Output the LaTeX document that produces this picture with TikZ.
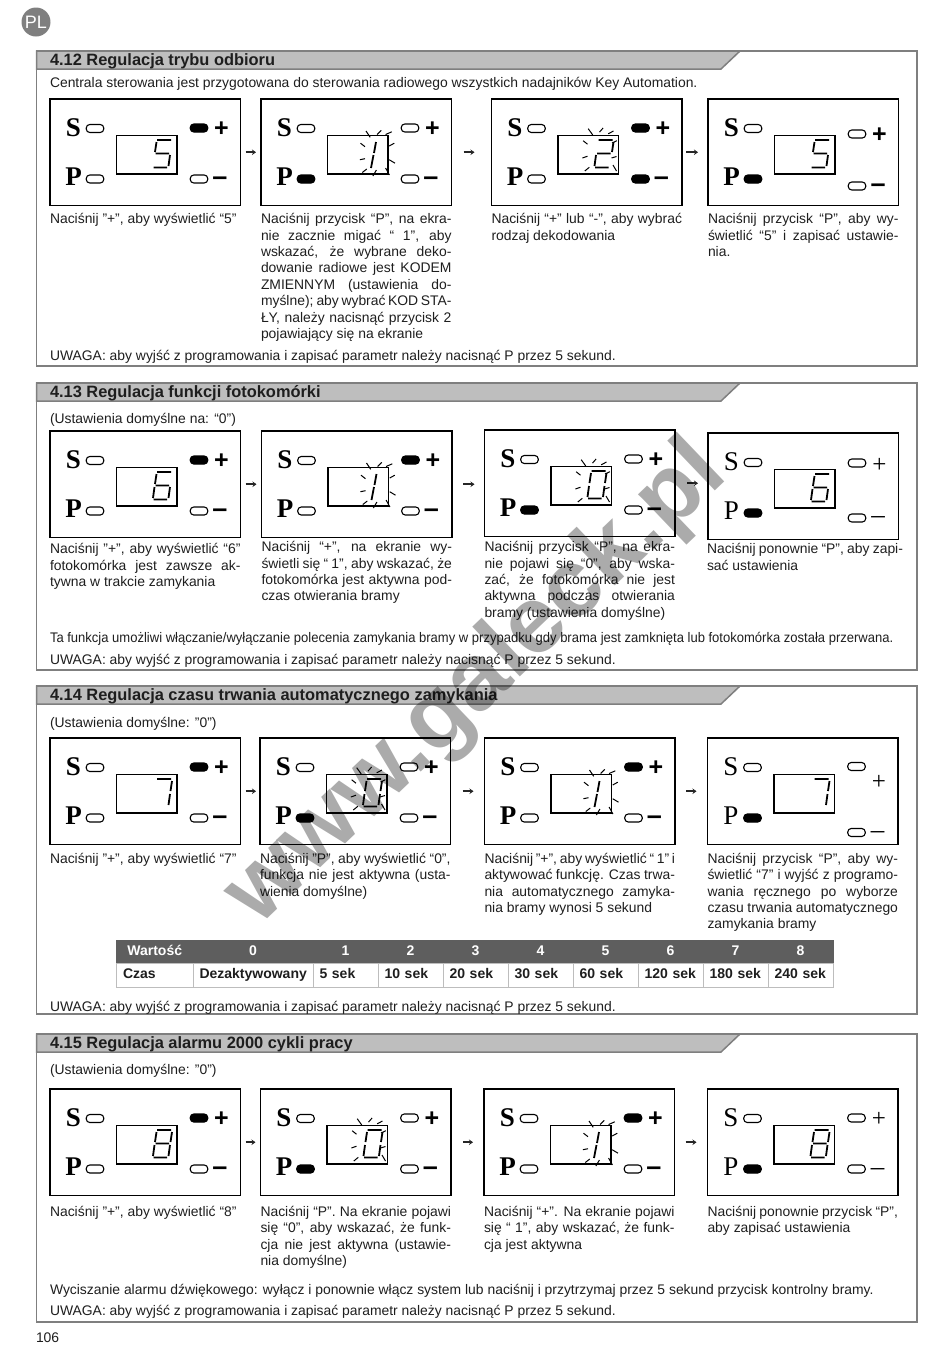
\documentclass[tikz,border=0pt]{standalone}
\usepackage{fontspec}
\setmainfont{Liberation Sans}
\newfontfamily\serifkeys{Liberation Serif}
\usetikzlibrary{arrows.meta, positioning}
\definecolor{frameline}{HTML}{7F7F7F}
\definecolor{barfill}{HTML}{BEBEBE}
\definecolor{inktext}{HTML}{1E1E1E}
\definecolor{tablehead}{HTML}{5E5E5E}
\definecolor{tableline}{HTML}{BDBDBD}
% display segments
\newcommand{\sega}{(107,41) -- (121,41)}
\newcommand{\segb}{(122,43) -- (120.5,53)}
\newcommand{\segc}{(120,56) -- (118.5,67)}
\newcommand{\segd}{(103.5,68.5) -- (117,68.5)}
\newcommand{\sege}{(103,67) -- (104.5,56)}
\newcommand{\segf}{(105,53) -- (106.5,43)}
\newcommand{\segg}{(105.5,54.5) -- (119,54.5)}
\newcommand{\dzero}{\sega \segb \segc \segd \sege \segf}
\newcommand{\done}{(115,43) -- (113,54) (112.5,56) -- (110,69)}
\newcommand{\dtwo}{\sega \segb \segg \sege \segd}
\newcommand{\dfive}{\sega \segf \segg \segc \segd}
\newcommand{\dsix}{\sega \segf \segg \segc \segd \sege}
\newcommand{\dseven}{\sega \segb \segc}
\newcommand{\deight}{\sega \segb \segc \segd \sege \segf \segg}
\newcommand{\blinkzero}{(96.7,29.7) -- (101.2,35.9) (108,33.1) -- (111.6,29) (116.7,34.8) -- (122,32)
  (91.6,41.7) -- (96,45.2) (90.9,59) -- (96,57.2) (93.3,72) -- (97.8,68.3)
  (120.5,44) -- (125.4,41.7) (120,59) -- (125,57.5) (121.5,66) -- (125,72)}
\newcommand{\blinkone}{(105,32) -- (109.2,38.3) (116.1,35.5) -- (120.2,31.4) (124.6,35.5) -- (130.8,32.8)
  (99.5,44.2) -- (104,47.7) (98.9,60.7) -- (104,59.7) (101.3,73.5) -- (105.8,70)
  (111.9,77) -- (115.4,71) (124.6,69) -- (128.4,76) (128.2,47) -- (133.3,44.2) (128.2,60.7) -- (134,64.2)}
% [levels and key look]{name}{position}{digit}{blink}{P led}{+ led}{- led}
\newcommand{\lcdpanel}[8][]{%
  \node[lcdframe] (#2) at (#3) {};
  \begin{scope}[shift={(#3)}]
    \def\plusledy{29}\def\plussigny{37.5}\def\minusledy{80}\def\minussigny{86.5}%
    \def\keystyle{\serifkeys\bfseries}\def\signstyle{\bfseries}#1
    \node[keyletter, font=\fontsize{27}{27}\keystyle] (#2s) at (23.5,37) {S};
    \node[keyletter, font=\fontsize{27}{27}\keystyle] (#2p) at (23.5,86.5) {P};
    \node[led] (#2sl) at (45,29.5) {};
    \node[led, fill=#6] (#2pl) at (45,80) {};
    \node[led, fill=#7] (#2al) at (149,\plusledy) {};
    \node[led, fill=#8] (#2ml) at (149,\minusledy) {};
    \node[keyletter, font=\fontsize{25}{25}\signstyle] (#2a) at (171.5,\plussigny) {+};
    \node[keyletter, font=\fontsize{27}{27}\signstyle] (#2m) at (170,\minussigny) {–};
    \node[lcdscreen] (#2d) at (66.5,36.5) {};
    \draw[digitseg] #4;
    \draw[blinktick] #5;
  \end{scope}}
\newcommand{\secframe}[4]{%
  \node[secbox, minimum height=#3pt] (#1) at (36.5,#2) {};
  \draw[secbar] (#1.north west) -- ++(703.5,0) -- ++(-19,18) -- ++(-684.5,0) -- cycle;
  \node[sectitle] (#1t) at (50,#2+14) {#4};}

\begin{document}
\begin{tikzpicture}[x=1pt, y=-1pt,
    every node/.style={inner sep=0pt, outer sep=0pt, text=inktext},
    secbox/.style={draw=frameline, line width=1.5pt, anchor=north west, minimum width=880.5pt},
    secbar/.style={draw=frameline, line width=1.5pt, fill=barfill},
    sectitle/.style={anchor=base west, font=\fontsize{16.4}{18}\selectfont\bfseries},
    lcdframe/.style={draw=black, line width=1.4pt, anchor=north west, minimum width=190.5pt, minimum height=106.5pt},
    lcdscreen/.style={draw=black, line width=1.2pt, anchor=north west, minimum width=60.5pt, minimum height=38.5pt},
    led/.style={draw=black, line width=1.1pt, rounded corners=3.5pt, minimum width=17.5pt, minimum height=8pt, fill=white},
    keyletter/.style={anchor=base, text=black},
    digitseg/.style={draw=black, line width=1.8pt},
    blinktick/.style={draw=black, line width=1pt},
    caption/.style={text width=190.5pt, align=justify, font=\fontsize{13.9}{16.4}\selectfont},
    bodyline/.style={anchor=base west, font=\fontsize{13.9}{16.4}\selectfont},
    flowarrow/.style={-{Stealth[length=4pt, width=5.5pt]}, line width=1.9pt, draw=black!85, yshift=-1pt},
    headcell/.style={fill=tablehead, draw=tablehead, line width=.8pt, minimum height=23pt, text height=10pt, text depth=2pt, text=white, align=center, font=\fontsize{14}{16}\selectfont\bfseries},
    rowcell/.style={draw=tableline, line width=.8pt, minimum height=24pt, text height=10pt, text depth=3pt, inner xsep=6.5pt, align=left, font=\fontsize{14}{16}\selectfont\bfseries}]
  \useasboundingbox (0,0) rectangle (950,1353);
  \node[circle, fill=frameline, minimum size=29pt, text=white, font=\fontsize{18}{18}\selectfont] (lang) at (36,22) {PL};
  \node[bodyline] (pageno) at (36,1342) {106};

  % 4.12
  \secframe{s12}{51}{315}{4.12 Regulacja trybu odbioru}
  \node[bodyline] (n12a) at (50,87.5) {Centrala sterowania jest przygotowana do sterowania radiowego wszystkich nadajników Key Automation.};
  \lcdpanel{p12a}{50,99}{\dfive}{}{white}{black}{white}
  \lcdpanel{p12b}{261,99}{\done}{\blinkone}{black}{white}{white}
  \lcdpanel{p12c}{491.5,99}{\dtwo}{\blinkzero}{white}{black}{black}
  \lcdpanel[\def\plusledy{35}\def\plussigny{43.5}\def\minusledy{87}\def\minussigny{93.5}]{p12d}{708,99}{\dfive}{}{black}{white}{white}
  \node[caption, below=8pt of p12a] (c12a) {Naciśnij ”+”, aby wyświetlić “5”};
  \node[caption, below=8pt of p12b] (c12b) {Naciśnij przycisk “P”, na ekra-\linebreak nie zacznie migać “ 1”, aby\linebreak wskazać, że wybrane deko-\linebreak dowanie radiowe jest KODEM\linebreak ZMIENNYM (ustawienia do-\linebreak myślne); aby wybrać KOD STA-\linebreak ŁY, należy nacisnąć przycisk 2\linebreak pojawiający się na ekranie};
  \node[caption, below=8pt of p12c] (c12c) {Naciśnij “+” lub “-”, aby wybrać\linebreak rodzaj dekodowania};
  \node[caption, below=8pt of p12d] (c12d) {Naciśnij przycisk “P”, aby wy-\linebreak świetlić “5” i zapisać ustawie-\linebreak nia.};
  \node[bodyline] (n12b) at (50,360) {UWAGA: aby wyjść z programowania i zapisać parametr należy nacisnąć P przez 5 sekund.};

  % 4.13
  \secframe{s13}{383}{287}{4.13 Regulacja funkcji fotokomórki}
  \node[bodyline] (n13a) at (50,423) {(Ustawienia domyślne na: “0”)};
  \lcdpanel{p13a}{50,431}{\dsix}{}{white}{black}{white}
  \lcdpanel{p13b}{261.5,431}{\done}{\blinkone}{white}{black}{white}
  \lcdpanel{p13c}{484.5,430}{\dzero}{\blinkzero}{black}{white}{white}
  \lcdpanel[\def\keystyle{\serifkeys}\def\signstyle{\serifkeys}\def\plusledy{30}\def\plussigny{39.5}\def\minusledy{85}\def\minussigny{90.5}]{p13d}{708,433}{\dsix}{}{black}{white}{white}
  \node[caption, below=6pt of p13a] (c13a) {Naciśnij ”+”, aby wyświetlić “6”\linebreak fotokomórka jest zawsze ak-\linebreak tywna w trakcie zamykania};
  \node[caption, below=4pt of p13b] (c13b) {Naciśnij “+”, na ekranie wy-\linebreak świetli się “ 1”, aby wskazać, że\linebreak fotokomórka jest aktywna pod-\linebreak czas otwierania bramy};
  \node[caption, below=5pt of p13c] (c13c) {Naciśnij przycisk “P”, na ekra-\linebreak nie pojawi się “0”, aby wska-\linebreak zać, że fotokomórka nie jest\linebreak aktywna podczas otwierania\linebreak bramy (ustawienia domyślne)};
  \node[caption, text width=196pt, anchor=north west] (c13d) at (707,543.5) {Naciśnij ponownie “P”, aby zapi-\linebreak sać ustawienia};
  \node[bodyline] (n13b) at (50,642) {\scalebox{.937}[1]{Ta funkcja umożliwi włączanie/wyłączanie polecenia zamykania bramy w przypadku gdy brama jest zamknięta lub fotokomórka została przerwana.}};
  \node[bodyline] (n13c) at (50,664) {UWAGA: aby wyjść z programowania i zapisać parametr należy nacisnąć P przez 5 sekund.};

  % 4.14
  \secframe{s14}{686}{328}{4.14 Regulacja czasu trwania automatycznego zamykania}
  \node[bodyline] (n14a) at (50,727) {(Ustawienia domyślne: ”0”)};
  \lcdpanel{p14a}{50,738}{\dseven}{}{white}{black}{white}
  \lcdpanel{p14b}{260,738}{\dzero}{\blinkzero}{black}{white}{white}
  \lcdpanel{p14c}{484.5,738}{\done}{\blinkone}{white}{black}{white}
  \lcdpanel[\def\keystyle{\serifkeys}\def\signstyle{\serifkeys}\def\plusledy{28.5}\def\plussigny{51}\def\minusledy{94.5}\def\minussigny{100.5}]{p14d}{707.5,738}{\dseven}{}{black}{white}{white}
  \node[caption, below=8.5pt of p14a] (c14a) {Naciśnij ”+”, aby wyświetlić “7”};
  \node[caption, below=8.5pt of p14b] (c14b) {Naciśnij ”P”, aby wyświetlić “0”,\linebreak funkcja nie jest aktywna (usta-\linebreak wienia domyślne)};
  \node[caption, below=8.5pt of p14c] (c14c) {Naciśnij ”+”, aby wyświetlić “ 1” i\linebreak aktywować funkcję. Czas trwa-\linebreak nia automatycznego zamyka-\linebreak nia bramy wynosi 5 sekund};
  \node[caption, below=8.5pt of p14d] (c14d) {Naciśnij przycisk “P”, aby wy-\linebreak świetlić “7” i wyjść z programo-\linebreak wania ręcznego po wyborze\linebreak czasu trwania automatycznego\linebreak zamykania bramy};
  \node[headcell, minimum width=76.5pt] (hname) at (154.75,951.5) {Wartość};
  \node[rowcell, text width=63.5pt] (rname) at (154.75,975) {Czas};
  \foreach \val/\tim/\cx/\cw in {0/Dezaktywowany/253/120, 1/5 sek/345.5/65, 2/10 sek/410.5/65,
      3/20 sek/475.5/65, 4/30 sek/540.5/65, 5/60 sek/605.5/65, 6/120 sek/670.5/65,
      7/180 sek/735.5/65, 8/240 sek/800.5/65}{%
    \node[headcell, minimum width=\cw pt] (h\val) at (\cx,951.5) {\val};
    \node[rowcell, text width=\cw pt-13pt] (r\val) at (\cx,975) {\tim};}
  \node[bodyline] (n14b) at (50,1011) {UWAGA: aby wyjść z programowania i zapisać parametr należy nacisnąć P przez 5 sekund.};

  % 4.15
  \secframe{s15}{1034}{288}{4.15 Regulacja alarmu 2000 cykli pracy}
  \node[bodyline] (n15a) at (50,1074) {(Ustawienia domyślne: ”0”)};
  \lcdpanel{p15a}{50,1089}{\deight}{}{white}{black}{white}
  \lcdpanel{p15b}{260.5,1089}{\dzero}{\blinkzero}{black}{white}{white}
  \lcdpanel{p15c}{484,1089}{\done}{\blinkone}{white}{black}{white}
  \lcdpanel[\def\keystyle{\serifkeys}\def\signstyle{\serifkeys}]{p15d}{707.5,1089}{\deight}{}{black}{white}{white}
  \node[caption, below=10.5pt of p15a] (c15a) {Naciśnij ”+”, aby wyświetlić “8”};
  \node[caption, below=10.5pt of p15b] (c15b) {Naciśnij “P”. Na ekranie pojawi\linebreak się “0”, aby wskazać, że funk-\linebreak cja nie jest aktywna (ustawie-\linebreak nia domyślne)};
  \node[caption, below=10.5pt of p15c] (c15c) {Naciśnij “+”. Na ekranie pojawi\linebreak się “ 1”, aby wskazać, że funk-\linebreak cja jest aktywna};
  \node[caption, below=10.5pt of p15d] (c15d) {Naciśnij ponownie przycisk “P”,\linebreak aby zapisać ustawienia};
  \node[bodyline] (n15b) at (50,1294) {Wyciszanie alarmu dźwiękowego: wyłącz i ponownie włącz system lub naciśnij i przytrzymaj przez 5 sekund przycisk kontrolny bramy.};
  \node[bodyline] (n15c) at (50,1315) {UWAGA: aby wyjść z programowania i zapisać parametr należy nacisnąć P przez 5 sekund.};

  \foreach \a/\b/\sa/\sb in {p12a/p12b/5/5, p12b/p12c/12/17, p12c/p12d/4/10,
      p13a/p13b/5/5, p13b/p13c/11/10, p13c/p13d/12/10,
      p14a/p14b/5/4, p14b/p14c/12/11, p14c/p14d/11/11,
      p15a/p15b/5/5, p15b/p15c/12/11, p15c/p15d/11/11}{%
    \draw[flowarrow, shorten <=\sa pt, shorten >=\sb pt] (\a.east) -- (\a.east -| \b.west);}

  \node[rotate=43.7, text=black, opacity=.33, font=\fontsize{95}{95}\selectfont\bfseries] (stamp) at (477,685) {www.galeck.pl};
\end{tikzpicture}
\end{document}
